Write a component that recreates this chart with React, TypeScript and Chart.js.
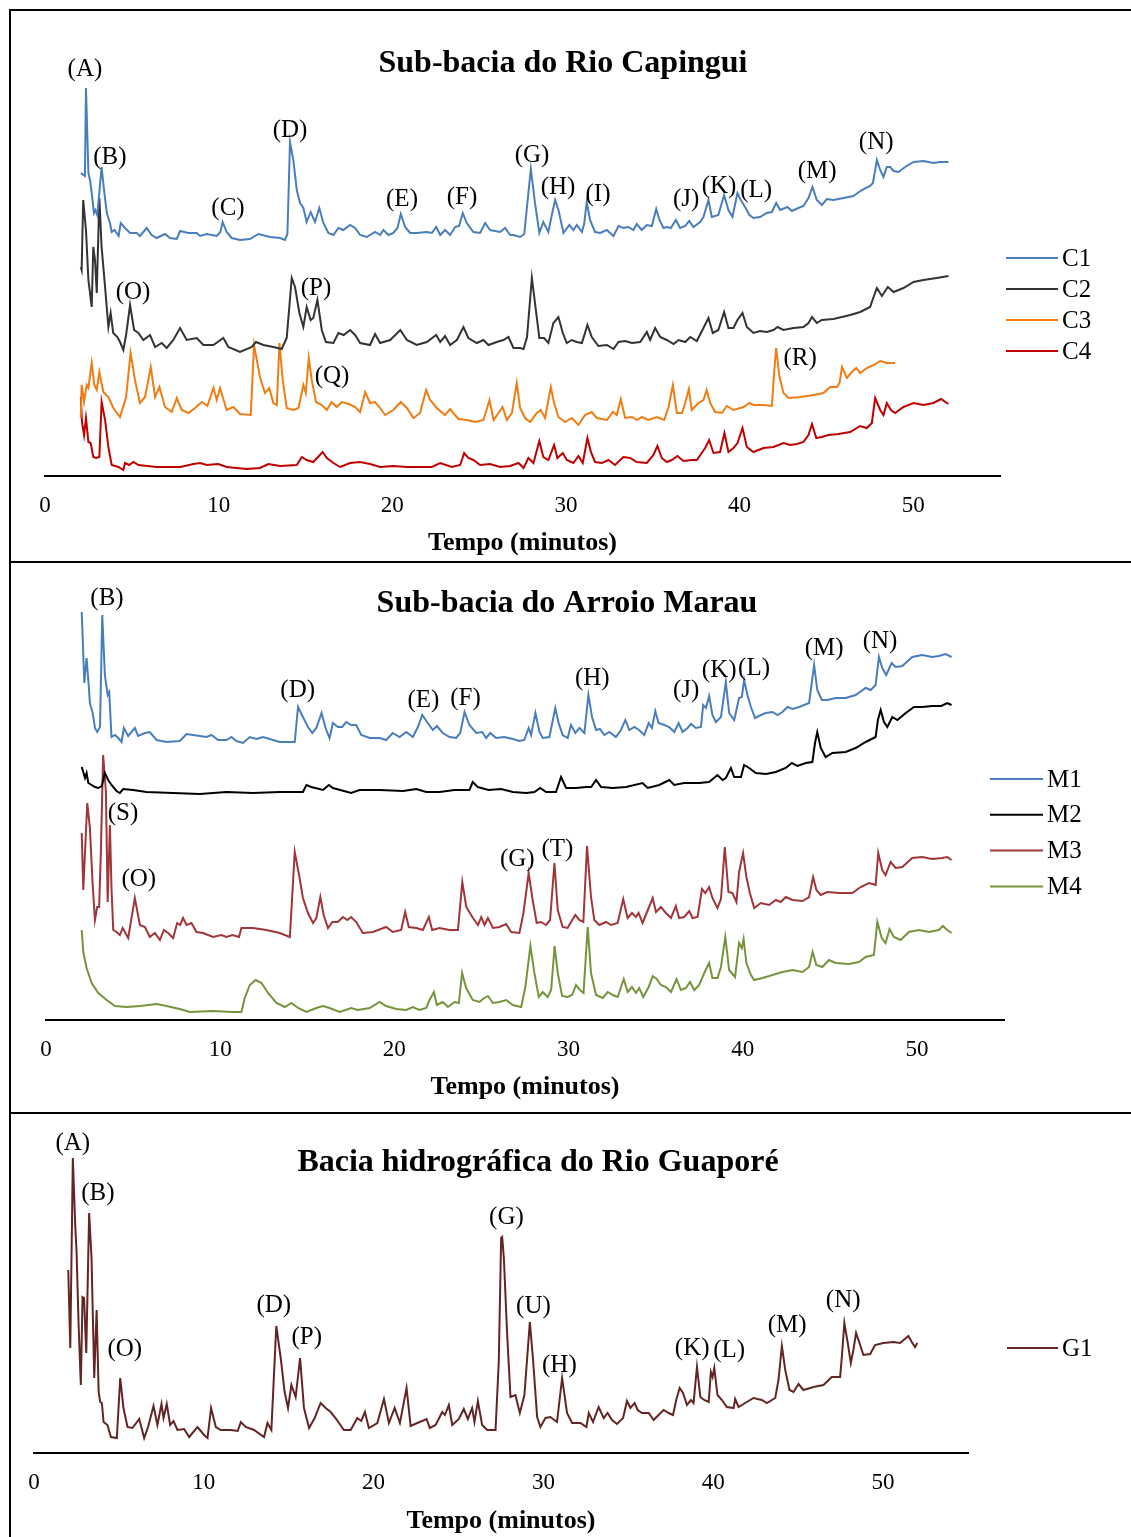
import React, { useEffect, useRef } from "react";
import { Chart, registerables } from "chart.js";

Chart.register(...registerables);

type Pt = [number, number];
type Peak = [string, number, number];

// ---------- x axis ----------
const xTickStep = 10;
const xMax = 55;
const axisTitle = "Tempo (minutos)";

// ---------- Sub-bacia do Rio Capingui ----------
const C1: Pt[] = [[2.06,303],[2.3,300],[2.36,388],[2.5,303],[2.6,295],[2.69,283],[2.82,263],[2.9,266],[3.01,261],[3.26,309],[3.4,286],[3.56,263],[3.74,253],[3.84,244],[4.0,246],[4.24,240],[4.36,253],[4.61,248],[4.9,243],[5.28,243],[5.47,240],[5.86,248],[6.14,241],[6.43,238],[6.91,242],[7.2,238],[7.59,237],[7.78,245],[8.26,243],[8.74,243],[8.93,240],[9.31,242],[9.89,240],[10.1,244],[10.23,254],[10.46,244],[10.75,238],[11.23,236],[11.8,237],[12.29,242],[12.96,239],[13.54,238],[13.82,236],[13.96,242],[14.11,334],[14.3,316],[14.5,286],[14.69,273],[14.88,268],[15.07,254],[15.3,264],[15.55,254],[15.8,268],[16.03,253],[16.32,243],[16.61,241],[16.9,248],[17.18,246],[17.57,251],[17.86,248],[18.15,241],[18.53,239],[19.01,244],[19.3,241],[19.49,246],[19.78,241],[20.06,243],[20.3,248],[20.49,262],[20.74,249],[21.03,243],[21.41,243],[21.99,244],[22.28,243],[22.53,249],[22.76,241],[23.04,246],[23.33,241],[23.62,249],[23.85,250],[24.06,263],[24.29,253],[24.67,244],[25.06,243],[25.35,253],[25.63,246],[26.21,244],[26.5,248],[26.79,241],[26.98,241],[27.36,239],[27.6,242],[27.98,307],[28.22,273],[28.47,243],[28.7,254],[28.99,244],[29.2,262],[29.38,276],[29.57,266],[29.86,243],[30.2,251],[30.43,246],[30.63,251],[30.92,244],[31.05,252],[31.2,274],[31.39,256],[31.68,244],[31.97,243],[32.36,246],[32.74,240],[33.03,250],[33.31,248],[33.6,249],[33.89,246],[34.08,252],[34.37,246],[34.66,251],[34.95,250],[35.2,267],[35.39,256],[35.62,248],[35.81,249],[36.04,248],[36.33,256],[36.58,248],[36.87,250],[37.1,255],[37.34,249],[37.73,254],[37.92,259],[38.21,276],[38.4,259],[38.78,261],[39.11,281],[39.36,266],[39.59,259],[39.88,283],[40.07,276],[40.32,269],[40.57,261],[40.8,258],[41.18,259],[41.57,263],[41.86,264],[42.11,273],[42.34,266],[42.76,269],[43.01,265],[43.39,268],[43.68,270],[43.97,278],[44.2,289],[44.45,276],[44.74,271],[45.03,277],[45.41,276],[45.99,278],[46.56,280],[47.04,286],[47.52,290],[47.68,293],[47.91,316],[48.1,306],[48.29,299],[48.48,309],[48.68,309],[48.87,305],[49.15,304],[49.54,309],[50.02,314],[50.59,315],[51.17,313],[51.56,314],[52.03,314]];

const C2: Pt[] = [[2.06,209],[2.11,206],[2.2,276],[2.36,246],[2.5,196],[2.69,169],[2.78,229],[2.88,216],[2.98,183],[3.13,278],[3.26,229],[3.46,189],[3.65,149],[3.78,163],[3.93,143],[4.17,139],[4.32,134],[4.51,126],[4.67,141],[4.9,171],[5.13,146],[5.38,143],[5.66,136],[6.05,141],[6.34,129],[6.72,133],[7.01,128],[7.39,136],[7.78,148],[8.16,136],[8.74,138],[9.12,131],[9.7,131],[10.27,138],[10.56,129],[11.23,124],[11.91,129],[12.15,134],[12.58,131],[13.15,129],[13.63,127],[13.92,138],[14.21,198],[14.4,189],[14.65,163],[14.88,149],[15.07,169],[15.3,156],[15.45,158],[15.69,176],[15.94,146],[16.18,134],[16.61,133],[16.9,143],[17.2,141],[17.57,146],[17.86,141],[18.15,133],[18.72,131],[19.01,142],[19.3,133],[19.88,136],[20.46,146],[20.84,136],[21.41,131],[21.99,134],[22.53,141],[22.76,134],[23.04,140],[23.33,131],[23.72,136],[24.1,149],[24.38,138],[24.87,133],[25.25,136],[25.54,131],[26.02,134],[26.4,136],[26.69,139],[26.98,128],[27.36,128],[27.56,127],[27.76,139],[28.04,198],[28.22,173],[28.47,138],[28.74,138],[28.99,133],[29.28,153],[29.57,159],[29.82,143],[30.05,133],[30.34,136],[30.63,134],[30.92,133],[31.24,151],[31.49,139],[31.87,130],[32.36,131],[32.74,127],[33.03,134],[33.41,135],[33.8,133],[34.28,134],[34.66,144],[34.85,136],[35.14,148],[35.43,139],[35.81,136],[36.2,132],[36.49,136],[36.87,134],[37.16,139],[37.54,135],[37.92,148],[38.21,158],[38.46,143],[38.78,146],[39.11,164],[39.36,148],[39.65,148],[39.88,156],[40.17,163],[40.42,149],[40.8,143],[41.18,145],[41.57,144],[41.95,146],[42.19,149],[42.53,146],[43.11,148],[43.68,149],[43.97,153],[44.17,159],[44.45,153],[44.74,156],[45.41,157],[46.37,161],[46.95,164],[47.52,169],[47.72,179],[47.91,188],[48.2,180],[48.54,189],[48.87,184],[49.44,188],[50.02,194],[50.59,196],[51.36,198],[52.03,200]];

const C3: Pt[] = [[2.06,58],[2.11,91],[2.25,74],[2.4,91],[2.5,88],[2.69,113],[2.84,91],[2.98,86],[3.13,104],[3.36,84],[3.65,79],[3.93,68],[4.32,59],[4.67,79],[4.93,123],[5.18,96],[5.47,73],[5.76,79],[6.09,109],[6.34,79],[6.59,89],[6.91,69],[7.3,64],[7.59,78],[7.87,66],[8.26,63],[8.64,68],[9.03,74],[9.35,70],[9.7,88],[9.89,76],[10.08,88],[10.46,66],[10.85,69],[11.23,62],[11.85,61],[12.04,131],[12.38,99],[12.67,83],[12.92,88],[13.15,73],[13.35,71],[13.5,133],[13.69,96],[13.92,68],[14.3,66],[14.6,68],[14.88,91],[15.02,83],[15.19,118],[15.36,96],[15.61,74],[15.94,71],[16.23,66],[16.51,74],[16.8,69],[17.09,74],[17.5,72],[17.86,69],[18.15,64],[18.44,84],[18.72,73],[19.01,74],[19.3,68],[19.59,61],[20.06,66],[20.49,74],[20.84,68],[21.22,58],[21.6,63],[21.95,86],[22.18,76],[22.56,68],[23.04,61],[23.33,67],[23.81,57],[24.29,56],[24.77,54],[25.25,56],[25.6,76],[25.83,56],[26.12,63],[26.35,69],[26.6,56],[26.89,63],[27.17,93],[27.36,68],[27.65,58],[27.94,54],[28.32,63],[28.55,66],[28.8,58],[29.13,89],[29.32,73],[29.57,59],[29.95,54],[30.34,58],[30.72,51],[31.1,61],[31.49,64],[31.78,58],[32.36,56],[32.71,64],[32.93,61],[33.16,77],[33.41,58],[33.8,59],[34.1,56],[34.37,59],[34.75,56],[35.24,59],[35.66,56],[35.91,69],[36.16,91],[36.39,63],[36.68,63],[36.87,73],[37.08,87],[37.25,66],[37.63,73],[37.92,76],[38.11,86],[38.31,73],[38.59,64],[38.98,63],[39.27,70],[39.65,66],[40.23,69],[40.57,73],[40.8,71],[41.38,71],[41.86,70],[41.99,103],[42.11,128],[42.3,99],[42.53,83],[42.82,78],[43.5,79],[44.26,81],[44.83,83],[45.22,89],[45.61,89],[45.76,93],[45.9,109],[46.18,98],[46.47,104],[46.72,108],[46.95,103],[47.33,108],[47.72,111],[48.1,115],[48.48,113],[48.96,113]];

const C4: Pt[] = [[2.06,79],[2.13,54],[2.25,41],[2.36,58],[2.5,34],[2.63,33],[2.78,19],[2.94,18],[3.13,19],[3.26,74],[3.46,56],[3.65,29],[3.84,11],[4.22,9],[4.51,6],[4.61,13],[4.85,11],[5.09,14],[5.38,11],[5.9,10],[6.43,9],[7.01,9],[7.8,9],[8.55,12],[8.93,13],[9.31,11],[9.98,12],[10.46,9],[11.62,7],[12.38,8],[12.86,12],[13.54,10],[14.5,11],[14.79,19],[15.07,16],[15.45,14],[15.99,24],[16.23,18],[16.61,13],[17.0,9],[17.57,13],[18.15,14],[18.72,12],[19.3,9],[20.06,10],[20.84,9],[21.6,9],[22.28,9],[22.76,13],[23.43,9],[23.91,11],[24.14,23],[24.38,18],[24.67,16],[25.06,11],[25.63,12],[26.21,9],[26.79,10],[27.27,13],[27.56,8],[27.84,18],[28.13,13],[28.47,35],[28.7,19],[28.99,16],[29.32,31],[29.51,18],[29.82,23],[30.05,16],[30.43,13],[30.72,20],[30.97,13],[31.24,38],[31.44,24],[31.68,14],[32.07,13],[32.45,16],[32.83,11],[33.31,19],[33.7,18],[34.08,14],[34.66,13],[35.04,21],[35.27,30],[35.52,18],[35.81,14],[36.1,16],[36.42,20],[36.77,15],[37.25,16],[37.54,16],[37.82,23],[38.02,28],[38.25,36],[38.5,23],[38.88,24],[39.13,43],[39.36,24],[39.65,28],[39.88,33],[40.17,48],[40.42,29],[40.8,24],[41.38,28],[41.95,29],[42.53,33],[42.91,31],[43.3,32],[43.68,34],[43.97,41],[44.17,52],[44.42,38],[44.74,39],[45.12,41],[45.7,42],[46.37,44],[46.95,50],[47.33,48],[47.62,53],[47.81,78],[48.1,66],[48.29,61],[48.48,73],[48.72,66],[48.96,63],[49.44,69],[50.02,73],[50.59,71],[51.17,73],[51.6,77],[52.03,72]];

const capinguiPeaks: Peak[] = [["(A)",2.3,407],["(B)",3.74,319],["(C)",10.54,268],["(D)",14.11,346],["(E)",20.56,277],["(F)",24.02,279],["(G)",28.05,321],["(H)",29.55,289],["(I)",31.85,282],["(J)",36.92,277],["(K)",38.82,290],["(L)",40.96,286],["(M)",44.47,305],["(N)",47.87,334],["(O)",5.07,184],["(P)",15.61,188],["(Q)",16.53,100],["(R)",43.49,118]];

// ---------- Sub-bacia do Arroio Marau ----------
const M1: Pt[] = [[2.05,408],[2.1,385],[2.2,337],[2.33,362],[2.45,335],[2.52,317],[2.68,307],[2.81,292],[2.94,288],[3.1,293],[3.23,405],[3.38,345],[3.54,325],[3.63,328],[3.76,283],[3.96,285],[4.15,282],[4.34,278],[4.47,292],[4.72,284],[5.1,292],[5.29,284],[5.68,287],[5.96,288],[6.35,280],[6.92,278],[7.68,279],[8.07,286],[8.83,284],[9.21,283],[9.5,285],[9.88,280],[10.36,280],[10.65,283],[10.93,279],[11.31,277],[11.7,283],[12.08,281],[12.46,283],[12.84,281],[13.42,278],[14.28,278],[14.47,313],[14.75,303],[15.04,293],[15.29,287],[15.52,292],[15.82,307],[16.05,292],[16.28,282],[16.47,297],[16.76,293],[17.0,293],[17.24,298],[17.52,295],[17.81,295],[18.1,285],[18.58,282],[19.15,282],[19.53,280],[19.91,287],[20.3,283],[20.68,288],[21.06,283],[21.35,293],[21.6,305],[21.92,297],[22.21,290],[22.44,294],[22.78,287],[23.17,283],[23.55,282],[23.78,287],[24.03,308],[24.31,295],[24.7,287],[25.04,288],[25.27,282],[25.5,287],[25.84,282],[26.3,283],[26.8,281],[27.18,279],[27.46,280],[27.71,292],[27.85,285],[28.1,307],[28.33,288],[28.52,282],[28.9,283],[29.24,312],[29.43,297],[29.66,285],[29.95,282],[30.14,295],[30.39,287],[30.62,292],[30.91,287],[31.14,325],[31.35,303],[31.58,290],[31.8,291],[32.05,285],[32.34,288],[32.72,283],[33.01,290],[33.26,300],[33.49,290],[33.78,293],[34.05,290],[34.35,285],[34.6,297],[34.79,292],[34.98,309],[35.17,297],[35.5,295],[35.78,293],[36.07,288],[36.32,297],[36.55,288],[36.83,292],[37.03,296],[37.31,292],[37.6,293],[37.73,315],[37.89,312],[38.07,324],[38.26,305],[38.46,298],[38.75,303],[39.03,338],[39.22,307],[39.51,300],[39.79,322],[39.95,323],[40.08,340],[40.27,325],[40.47,313],[40.71,302],[41.04,305],[41.33,307],[41.71,308],[42.0,305],[42.28,308],[42.57,313],[42.86,311],[43.24,313],[43.81,317],[44.1,355],[44.28,330],[44.54,320],[44.86,320],[45.34,322],[45.91,322],[46.48,325],[47.06,332],[47.35,330],[47.63,335],[47.82,363],[48.01,352],[48.24,345],[48.55,357],[48.78,353],[49.16,354],[49.73,363],[50.3,365],[50.88,363],[51.26,364],[51.64,366],[51.99,363]];

const M2: Pt[] = [[2.05,253],[2.14,248],[2.24,242],[2.33,247],[2.43,237],[2.62,235],[2.81,233],[3.0,232],[3.2,234],[3.38,247],[3.57,240],[3.76,235],[4.05,229],[4.24,227],[4.43,231],[5.0,230],[5.77,228],[7.3,227],[8.83,226],[10.36,228],[11.89,227],[13.42,228],[14.75,228],[14.95,235],[15.23,233],[15.9,230],[16.24,235],[16.47,232],[17.52,227],[18.0,230],[19.15,230],[20.5,229],[21.26,231],[21.83,228],[22.6,228],[23.45,230],[24.31,230],[24.5,238],[24.79,233],[25.4,230],[26.13,231],[26.8,228],[27.56,227],[28.04,228],[28.37,232],[28.71,228],[29.28,228],[29.57,243],[29.86,232],[30.43,232],[31.01,233],[31.3,233],[31.58,240],[31.87,233],[32.54,232],[33.3,233],[34.25,237],[34.54,232],[35.21,235],[35.78,240],[36.07,235],[36.64,237],[37.5,237],[38.07,238],[38.55,245],[38.84,240],[39.03,242],[39.32,252],[39.51,243],[39.9,243],[40.08,255],[40.37,252],[40.75,247],[41.33,246],[41.9,248],[42.47,252],[42.82,257],[43.14,254],[43.62,257],[44.0,258],[44.15,277],[44.28,288],[44.48,272],[44.76,263],[45.15,267],[45.91,268],[46.48,272],[47.06,278],[47.63,283],[47.76,300],[47.92,310],[48.11,298],[48.3,293],[48.59,303],[48.88,300],[49.36,307],[49.83,313],[50.31,313],[50.88,314],[51.4,314],[51.74,317],[51.99,315]];

const M3: Pt[] = [[2.05,187],[2.14,130],[2.24,168],[2.37,217],[2.52,192],[2.68,135],[2.81,100],[2.94,113],[3.05,113],[3.15,168],[3.28,265],[3.44,228],[3.54,118],[3.67,195],[3.76,132],[3.86,90],[4.05,88],[4.24,85],[4.4,92],[4.72,82],[5.1,122],[5.39,95],[5.68,93],[5.96,83],[6.25,87],[6.54,80],[6.77,90],[7.01,87],[7.3,82],[7.53,97],[7.7,95],[7.87,102],[8.07,95],[8.35,97],[8.64,88],[9.02,87],[9.59,83],[10.07,85],[10.36,83],[10.7,85],[11.08,83],[11.22,92],[11.89,92],[12.65,90],[13.42,87],[14.0,83],[14.28,168],[14.53,145],[14.75,122],[15.04,107],[15.33,97],[15.52,102],[15.75,123],[15.94,105],[16.19,92],[16.44,98],[16.75,98],[17.05,103],[17.3,100],[17.52,103],[17.81,98],[18.19,87],[18.77,88],[19.53,93],[19.91,88],[20.39,90],[20.62,108],[20.83,93],[21.26,92],[21.64,90],[21.98,103],[22.17,90],[22.59,92],[23.17,90],[23.65,90],[23.9,138],[24.13,113],[24.51,102],[24.8,95],[24.99,103],[25.18,95],[25.37,102],[25.66,92],[26.03,93],[26.42,96],[26.7,88],[27.18,87],[27.41,107],[27.71,147],[27.94,120],[28.17,97],[28.42,98],[28.71,95],[28.94,100],[29.19,157],[29.38,110],[29.66,93],[29.95,92],[30.14,98],[30.39,105],[30.62,100],[30.85,98],[31.06,174],[31.29,123],[31.48,100],[31.77,95],[32.15,98],[32.44,95],[32.82,97],[33.14,121],[33.39,102],[33.64,107],[33.87,103],[34.02,107],[34.25,97],[34.6,112],[34.83,122],[35.02,108],[35.3,113],[35.59,107],[35.88,102],[36.16,114],[36.35,102],[36.64,103],[36.93,109],[37.12,102],[37.41,103],[37.66,131],[37.85,127],[38.07,133],[38.26,122],[38.55,112],[38.75,121],[38.97,173],[39.18,128],[39.41,127],[39.64,118],[39.79,148],[40.02,167],[40.21,143],[40.41,127],[40.66,112],[41.04,117],[41.51,115],[41.9,120],[42.18,118],[42.47,123],[42.86,120],[43.43,119],[43.81,123],[44.04,143],[44.23,130],[44.48,125],[44.86,128],[45.53,127],[46.29,127],[46.77,133],[47.25,137],[47.63,135],[47.78,167],[48.01,150],[48.2,145],[48.49,158],[48.78,152],[49.16,153],[49.73,162],[50.3,163],[50.88,161],[51.45,162],[51.74,163],[51.99,160]];

const M4: Pt[] = [[2.05,90],[2.14,68],[2.33,52],[2.62,37],[3.0,27],[3.48,20],[3.96,14],[4.63,13],[5.39,14],[6.35,16],[6.92,14],[7.68,11],[8.26,8],[9.59,9],[10.74,8],[11.22,8],[11.41,22],[11.7,35],[12.04,40],[12.37,37],[12.75,27],[13.23,17],[13.71,13],[14.09,17],[14.47,12],[14.95,8],[15.52,12],[15.9,14],[16.28,12],[16.86,8],[17.52,12],[17.9,10],[18.58,12],[19.15,18],[19.53,14],[20.11,11],[20.68,10],[21.06,13],[21.44,10],[21.83,12],[22.02,20],[22.27,28],[22.44,15],[22.78,18],[23.07,13],[23.45,18],[23.7,17],[23.89,47],[24.12,32],[24.5,20],[24.89,18],[25.08,21],[25.37,24],[25.66,17],[26.03,18],[26.42,20],[26.8,15],[27.28,13],[27.52,33],[27.81,74],[28.04,47],[28.29,23],[28.52,28],[28.8,23],[29.0,30],[29.2,74],[29.38,47],[29.63,24],[29.95,23],[30.2,25],[30.43,35],[30.66,30],[30.86,27],[31.1,93],[31.29,47],[31.58,25],[31.96,22],[32.25,28],[32.54,25],[32.82,23],[33.17,41],[33.39,28],[33.64,33],[33.87,27],[34.06,32],[34.29,23],[34.6,33],[34.83,44],[35.06,41],[35.3,35],[35.59,33],[35.88,28],[36.2,41],[36.45,30],[36.74,32],[36.97,38],[37.22,30],[37.5,35],[37.79,47],[38.07,57],[38.26,42],[38.55,42],[38.75,53],[39.0,83],[39.22,50],[39.56,43],[39.79,77],[39.95,72],[40.05,81],[40.21,57],[40.47,45],[40.66,40],[41.13,42],[41.71,45],[42.28,48],[42.86,50],[43.43,48],[43.81,53],[44.01,68],[44.23,55],[44.57,53],[44.95,60],[45.34,57],[46.1,56],[46.67,58],[47.06,63],[47.53,65],[47.73,98],[47.98,82],[48.2,77],[48.43,91],[48.68,83],[49.06,80],[49.54,88],[50.11,90],[50.69,88],[51.26,90],[51.49,94],[51.74,90],[51.99,87]];

const marauPeaks: Peak[] = [["(B)",3.5,422],["(D)",14.45,330],["(E)",21.67,320],["(F)",24.08,322],["(H)",31.36,342],["(J)",36.75,330],["(K)",38.65,350],["(L)",40.65,352],["(M)",44.67,372],["(N)",47.88,379],["(S)",4.42,207],["(O)",5.33,141],["(G)",27.06,161],["(T)",29.36,171]];

// ---------- Bacia hidrográfica do Rio Guaporé ----------
const G1: Pt[] = [[2.02,183],[2.14,105],[2.29,295],[2.43,228],[2.51,201],[2.63,128],[2.76,68],[2.86,156],[2.95,155],[3.08,100],[3.25,240],[3.39,195],[3.55,75],[3.69,143],[3.81,61],[3.9,51],[4.0,50],[4.1,31],[4.33,28],[4.53,16],[4.88,15],[5.08,75],[5.27,45],[5.51,26],[5.8,25],[6.2,34],[6.49,15],[6.72,26],[7.04,47],[7.27,28],[7.51,49],[7.63,35],[7.82,49],[8.02,28],[8.22,32],[8.45,23],[8.84,24],[9.14,16],[9.63,26],[10.02,18],[10.22,15],[10.43,45],[10.71,26],[11.0,23],[11.59,23],[12.0,22],[12.18,31],[12.47,26],[12.96,23],[13.55,16],[13.75,30],[13.98,23],[14.27,127],[14.53,95],[14.76,61],[14.96,45],[15.16,68],[15.41,56],[15.67,95],[15.9,45],[16.2,25],[16.53,35],[16.88,50],[17.18,45],[17.47,41],[17.8,34],[18.25,23],[18.65,23],[19.04,35],[19.27,32],[19.49,41],[19.72,25],[20.22,30],[20.61,54],[20.9,30],[21.24,45],[21.55,30],[21.94,65],[22.18,27],[22.57,30],[23.12,34],[23.31,25],[23.65,28],[24.04,41],[24.2,38],[24.43,48],[24.63,28],[25.02,34],[25.31,44],[25.55,34],[25.8,45],[25.94,31],[26.14,52],[26.39,28],[26.69,23],[27.18,23],[27.37,91],[27.51,215],[27.57,216],[27.67,195],[27.86,120],[28.06,56],[28.35,58],[28.61,40],[28.88,58],[29.2,131],[29.39,93],[29.63,36],[29.82,26],[30.12,35],[30.41,36],[30.8,31],[31.1,75],[31.39,40],[31.69,30],[32.18,30],[32.53,26],[32.67,40],[32.92,31],[33.25,46],[33.55,35],[33.78,40],[34.04,33],[34.33,29],[34.69,35],[34.92,52],[35.12,45],[35.37,50],[35.55,43],[35.8,40],[36.2,40],[36.49,33],[36.78,38],[37.08,43],[37.37,40],[37.63,38],[37.82,53],[38.02,65],[38.22,60],[38.45,48],[38.69,53],[38.84,50],[39.04,86],[39.24,56],[39.47,53],[39.73,51],[39.86,81],[39.96,76],[40.06,85],[40.25,58],[40.51,53],[40.8,46],[41.2,45],[41.29,54],[41.49,46],[41.88,50],[42.37,55],[42.86,53],[43.16,50],[43.65,55],[43.84,73],[44.04,107],[44.24,83],[44.49,63],[44.73,61],[45.02,69],[45.31,63],[45.9,66],[46.49,68],[46.98,76],[47.47,76],[47.57,96],[47.72,130],[47.92,110],[48.1,90],[48.25,103],[48.41,120],[48.61,110],[48.84,98],[49.24,99],[49.53,108],[50.02,110],[50.61,111],[51.0,110],[51.49,117],[51.69,111],[51.88,106],[52.02,110]];

const guaporePeaks: Peak[] = [["(A)",2.29,310],["(B)",3.76,260],["(O)",5.35,104],["(D)",14.12,148],["(P)",16.06,116],["(G)",27.82,236],["(U)",29.41,147],["(H)",30.94,88],["(K)",38.76,105],["(L)",40.94,103],["(M)",44.35,128],["(N)",47.65,153]];

// ---------- panel layout ----------
interface Series { label: string; data: Pt[]; color: string }
interface Panel {
  title: string;
  top: number; height: number;
  titlePadTop: number; yMax: number; axisH: number;
  padRight: number; padBottom: number; leftW: number; rightW: number;
  series: Series[]; peaks: Peak[];
  legendX: number; legendY: number; legendGap: number; legendLen: number;
}

const FONT = "'Liberation Serif', 'Times New Roman', serif";
const CANVAS_LEFT = 12;
const CANVAS_W = 1119;

const panels: Panel[] = [
  {
    title: "Sub-bacia do Rio Capingui", top: 12, height: 549,
    titlePadTop: 32.8, yMax: 392, axisH: 83, padRight: 17, padBottom: 2, leftW: 33, rightW: 114,
    series: [
      { label: "C1", data: C1, color: "#4a7ebb" },
      { label: "C2", data: C2, color: "#333333" },
      { label: "C3", data: C3, color: "#ef7d13" },
      { label: "C4", data: C4, color: "#c00000" },
    ],
    peaks: capinguiPeaks, legendX: 994, legendY: 246, legendGap: 31, legendLen: 52,
  },
  {
    title: "Sub-bacia do Arroio Marau", top: 564, height: 548,
    titlePadTop: 20.8, yMax: 396, axisH: 83, padRight: 9, padBottom: 9, leftW: 34, rightW: 118,
    series: [
      { label: "M1", data: M1, color: "#4a7ebb" },
      { label: "M2", data: M2, color: "#000000" },
      { label: "M3", data: M3, color: "#a0363a" },
      { label: "M4", data: M4, color: "#77933c" },
    ],
    peaks: marauPeaks, legendX: 978, legendY: 215, legendGap: 35.8, legendLen: 53,
  },
  {
    title: "Bacia hidrográfica do Rio Guaporé", top: 1115, height: 422,
    titlePadTop: 28.8, yMax: 270, axisH: 84, padRight: 67, padBottom: 0, leftW: 21, rightW: 96,
    series: [{ label: "G1", data: G1, color: "#632523" }],
    peaks: guaporePeaks, legendX: 995, legendY: 233, legendGap: 36, legendLen: 51,
  },
];

function buildChart(canvas: HTMLCanvasElement, p: Panel): Chart {
  const overlay = {
    id: "overlay" + p.title.length,
    afterDatasetsDraw(chart: any) {
      const ctx: CanvasRenderingContext2D = chart.ctx;
      const xs = chart.scales.x;
      const ys = chart.scales.y;
      ctx.save();
      ctx.fillStyle = "#000";
      ctx.font = `25px ${FONT}`;
      ctx.textAlign = "center";
      ctx.textBaseline = "middle";
      for (const [txt, t, h] of p.peaks) {
        ctx.fillText(txt, xs.getPixelForValue(t), ys.getPixelForValue(h));
      }
      // legend
      ctx.textAlign = "left";
      chart.data.datasets.forEach((ds: any, i: number) => {
        const y = p.legendY + i * p.legendGap;
        ctx.strokeStyle = ds.borderColor;
        ctx.lineWidth = 2;
        ctx.beginPath();
        ctx.moveTo(p.legendX, y);
        ctx.lineTo(p.legendX + p.legendLen, y);
        ctx.stroke();
        ctx.fillStyle = "#000";
        ctx.fillText(ds.label, p.legendX + p.legendLen + 4, y + 1);
      });
      ctx.restore();
    },
  };

  const hidden = {
    grid: { display: false, drawTicks: false },
    border: { display: false },
    ticks: { display: false },
  };

  return new Chart(canvas, {
    type: "line",
    data: {
      datasets: p.series.map((s) => ({
        label: s.label,
        data: s.data.map(([x, y]) => ({ x, y })),
        borderColor: s.color,
        backgroundColor: s.color,
        borderWidth: 2,
        pointRadius: 0,
        tension: 0,
        fill: false,
        clip: false as any,
        yAxisID: "y",
      })),
    },
    options: {
      responsive: false,
      maintainAspectRatio: false,
      animation: false,
      devicePixelRatio: 1,
      events: [],
      layout: { padding: { left: 0, right: p.padRight, top: 0, bottom: p.padBottom } },
      scales: {
        x: {
          type: "linear",
          position: "bottom",
          min: 0,
          max: xMax,
          afterFit: (s: any) => { s.height = p.axisH; },
          grid: { display: false, drawTicks: false },
          border: { display: true, color: "#000", width: 2 },
          ticks: {
            stepSize: xTickStep,
            includeBounds: false,
            autoSkip: false,
            maxRotation: 0,
            padding: 16.2,
            color: "#000",
            font: { family: FONT, size: 23 },
          },
          title: {
            display: true,
            text: axisTitle,
            color: "#000",
            padding: 0,
            font: { family: FONT, size: 26, weight: "bold" },
          },
        },
        y: {
          type: "linear",
          position: "left",
          min: 0,
          max: p.yMax,
          afterFit: (s: any) => { s.width = p.leftW; },
          ...hidden,
        },
        y2: {
          type: "linear",
          position: "right",
          min: 0,
          max: 1,
          afterFit: (s: any) => { s.width = p.rightW; },
          ...hidden,
        },
      } as any,
      plugins: {
        legend: { display: false },
        tooltip: { enabled: false },
        title: {
          display: true,
          text: p.title,
          color: "#000",
          fullSize: true,
          padding: { top: p.titlePadTop, bottom: 0.8 },
          font: { family: FONT, size: 32, weight: "bold" },
        },
      },
    } as any,
    plugins: [overlay],
  });
}

function PanelChart({ p }: { p: Panel }) {
  const ref = useRef<HTMLCanvasElement | null>(null);
  useEffect(() => {
    if (!ref.current) return;
    const chart = buildChart(ref.current, p);
    return () => chart.destroy();
  }, [p]);
  return (
    <canvas
      ref={ref}
      width={CANVAS_W}
      height={p.height}
      style={{ position: "absolute", left: CANVAS_LEFT, top: p.top, width: CANVAS_W, height: p.height }}
    />
  );
}

export default function App() {
  Chart.defaults.font.family = FONT;
  Chart.defaults.color = "#000";
  const line = (style: React.CSSProperties) => (
    <div style={{ position: "absolute", background: "#000", ...style }} />
  );
  return (
    <div style={{ position: "absolute", left: 0, top: 0, width: 1131, height: 1537, background: "#fff", overflow: "hidden" }}>
      {line({ left: 9, top: 9, width: 1122, height: 2 })}
      {line({ left: 9, top: 9, width: 2, height: 1528 })}
      {line({ left: 9, top: 561, width: 1122, height: 2 })}
      {line({ left: 9, top: 1112, width: 1122, height: 2 })}
      {panels.map((p) => (
        <PanelChart key={p.title} p={p} />
      ))}
    </div>
  );
}
